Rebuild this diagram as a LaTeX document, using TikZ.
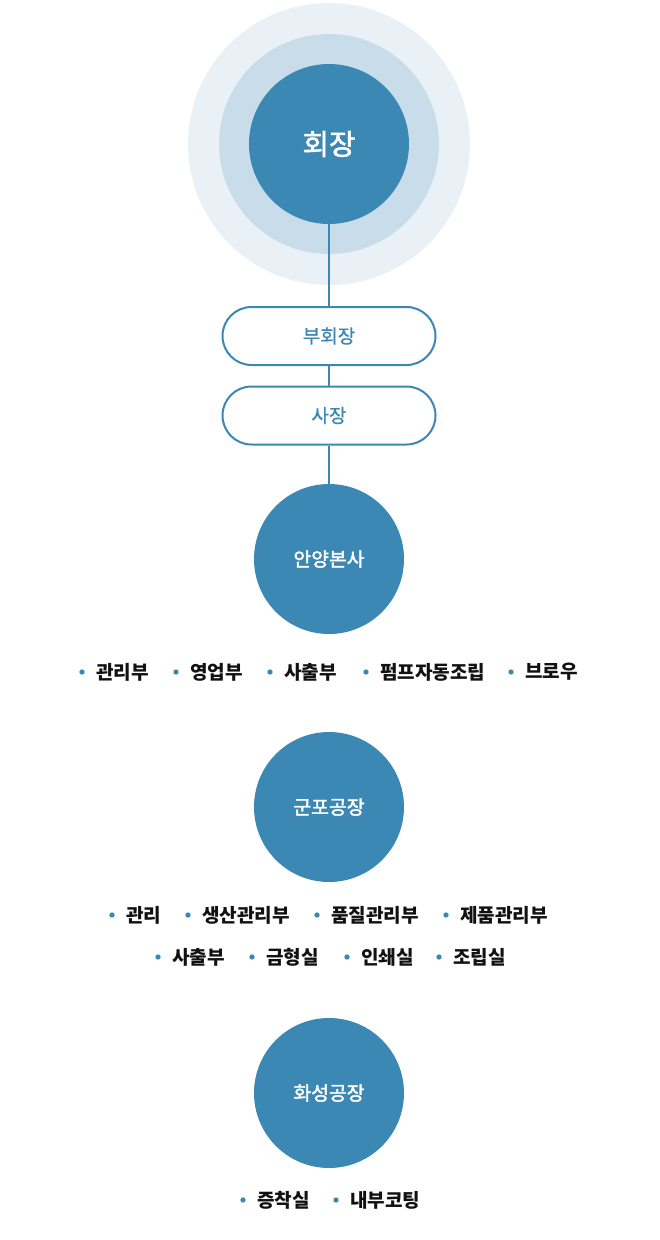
\documentclass[tikz,border=0pt]{standalone}
\usepackage{fontspec}
\setmainfont{Noto Sans CJK KR}
\newfontfamily\krmed{Noto Sans CJK KR}[FakeBold=0.8]
\newfontfamily\krsemi{Noto Sans CJK KR}[FakeBold=2]
\definecolor{mainblue}{HTML}{3B88B5}
\definecolor{ringmid}{HTML}{C8DDE9}
\definecolor{ringout}{HTML}{E9F1F6}
\definecolor{txt}{HTML}{111111}
\tikzset{
  conn/.style={draw=mainblue, line width=1.5pt},
  bigcirc/.style={circle, fill=mainblue, minimum size=112.5pt, inner sep=0pt, text=white, font=\fontsize{14.5pt}{14.5pt}\krsemi},
  pill/.style={draw=mainblue, line width=1.5pt, fill=white, rounded corners=21.75pt, minimum width=159.75pt, minimum height=43.5pt, inner sep=0pt, text=mainblue, font=\fontsize{14.3pt}{14.3pt}\krmed},
  dot/.style={circle, fill=mainblue, minimum size=4pt, inner sep=0pt},
  item/.style={anchor=west, inner sep=0pt, text=txt, font=\fontsize{14.3pt}{14.3pt}\selectfont\bfseries},
}
\begin{document}
\begin{tikzpicture}[x=0.75pt, y=-0.75pt]
\useasboundingbox (0,0) rectangle (660,1240);
% top rings
\fill[ringout] (329,144) circle (141);
\fill[ringmid] (329,144) circle (110);
\node[circle, fill=mainblue, minimum size=120pt, inner sep=0pt, text=white, font=\fontsize{21.5pt}{21.5pt}\krsemi] (ch) at (329,144) {회장};
\node[pill] (vp) at (329,336) {부회장};
\node[pill] (pr) at (329,415.5) {사장};
\node[bigcirc] (ay) at (329,559) {안양본사};
\draw[conn] (ch) -- (vp);
\draw[conn] (vp) -- (pr);
\draw[conn] (pr) -- (ay);
\node[bigcirc] (gp) at (329,807) {군포공장};
\node[bigcirc] (hs) at (329,1093) {화성공장};
% Anyang items
\foreach \bx/\t/\n in {82/관리부/a1, 176/영업부/a2, 270/사출부/a3, 366/펌프자동조립/a4, 511/브로우/a5}{
  \node[dot] (d\n) at (\bx,672) {};
  \node[item] (\n) at (\bx+14,672) {\t};
}
% Gunpo items
\foreach \bx/\t/\n in {112/관리/g1, 188/생산관리부/g2, 317/품질관리부/g3, 446/제품관리부/g4}{
  \node[dot] (d\n) at (\bx,915) {};
  \node[item] (\n) at (\bx+14,915) {\t};
}
\foreach \bx/\t/\n in {158/사출부/g5, 252/금형실/g6, 347/인쇄실/g7, 439/조립실/g8}{
  \node[dot] (d\n) at (\bx,957) {};
  \node[item] (\n) at (\bx+14,957) {\t};
}
% Hwaseong items
\foreach \bx/\t/\n in {243/증착실/h1, 336/내부코팅/h2}{
  \node[dot] (d\n) at (\bx,1200) {};
  \node[item] (\n) at (\bx+14,1200) {\t};
}
\end{tikzpicture}
\end{document}
